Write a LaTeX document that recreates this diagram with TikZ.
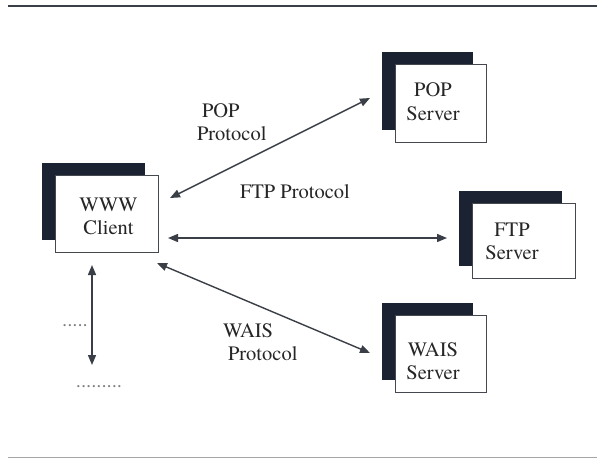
\documentclass[tikz,border=0pt]{standalone}
\usepackage{fontspec}
\newfontfamily\labelfont{texgyretermes-regular.otf}
\usetikzlibrary{arrows.meta,calc,shadows}
\definecolor{ink}{HTML}{3A3E46}
\definecolor{shade}{HTML}{1B2333}
\definecolor{frame}{HTML}{45484E}
\definecolor{txt}{HTML}{262626}
\begin{document}
\begin{tikzpicture}[x=1pt,y=-1pt,
  hostbox/.style 2 args={draw=frame, line width=0.9pt, fill=white,
    minimum width=#1, minimum height=#2, inner sep=0pt, outer sep=0pt,
    general shadow={shadow xshift=-13pt, shadow yshift=12pt, fill=shade}},
  lbl/.style={font=\labelfont\fontsize{20.5}{23.5}\selectfont, text=txt, inner sep=0pt, outer sep=0pt},
  boxtext/.style={lbl, align=center},
  link/.style={draw=ink, line width=1.4pt,
    {Triangle[length=10pt,width=8pt]}-{Triangle[length=10pt,width=8pt]}},
  rule/.style={line width=#1}
]
% page area and the two horizontal rules
\fill[white] (0,0) rectangle (597,459);
\useasboundingbox (0,0) rectangle (597,459);
\draw[rule=2.4pt, draw=ink] (8,6) -- (597,6);
\draw[rule=1.5pt, draw=gray!70] (8,457.5) -- (597,457.5);

% hosts
\node[hostbox={103pt}{77pt}] (www)  at (106.5,213.5) {};
\node[hostbox={91pt}{78pt}]  (pop)  at (440.5,103)   {};
\node[hostbox={103pt}{75pt}] (ftp)  at (523.5,240.5) {};
\node[hostbox={91pt}{77pt}]  (wais) at (440.5,353.5) {};

\node[boxtext] (wwwt)  at (108.5,216.5) {WWW\\Client};
\node[boxtext] (popt)  at (433,101.5)   {POP\\Server};
\node[boxtext] (ftpt)  at (512,241.5)   {FTP\\Server};
\node[boxtext] (waist) at (433,361)     {WAIS\\Server};

% protocol labels
\node[lbl, anchor=base west] (popl1)  at (202,117) {POP};
\node[lbl, anchor=base west] (popl2)  at (197,140) {Protocol};
\node[lbl, anchor=base west] (ftpl)   at (240,198) {FTP Protocol};
\node[lbl, anchor=base west] (waisl1) at (223,337) {WAIS};
\node[lbl, anchor=base west] (waisl2) at (228,360) {Protocol};

% further, unnamed services
\node[lbl, text=gray, anchor=base] (dots1) at (75,326) {.....};
\node[lbl, text=gray, anchor=base] (dots2) at (99,387) {.........};

% connections
\draw[link] ($(www.east)+(12,-15.5)$) -- ($(pop.west)+(-25,-5)$);
\draw[link] ($(www.east)+(10,24.5)$)  -- ($(ftp.west)+(-25,-2.5)$);
\draw[link] ($(www.south east)+(-1,11)$) -- ($(wais.west)+(-25,-0.5)$);
\draw[link] ($(www.south)+(-14.5,13)$) -- ($(www.south)+(-14.5,113)$);
\end{tikzpicture}
\end{document}
